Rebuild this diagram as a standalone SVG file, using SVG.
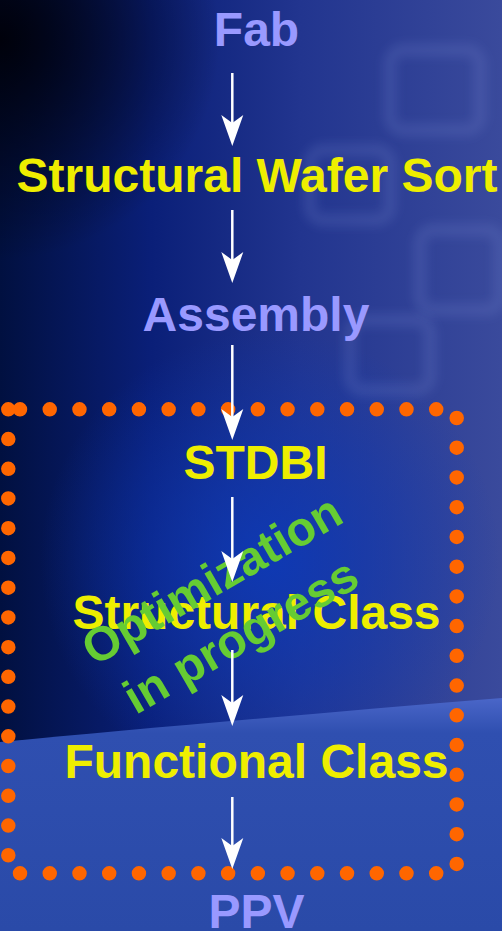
<svg xmlns="http://www.w3.org/2000/svg" width="502" height="931" viewBox="0 0 502 931">
  <defs>
    <linearGradient id="bgH" x1="0" y1="0" x2="1" y2="0">
      <stop offset="0" stop-color="#011040"/>
      <stop offset="0.3" stop-color="#0a1f78"/>
      <stop offset="0.6" stop-color="#22358f"/>
      <stop offset="1" stop-color="#3a4a9c"/>
    </linearGradient>
    <radialGradient id="glow" cx="270" cy="560" r="230" gradientUnits="userSpaceOnUse">
      <stop offset="0" stop-color="#0d3ab8" stop-opacity="0.9"/>
      <stop offset="1" stop-color="#0d3ab8" stop-opacity="0"/>
    </radialGradient>
    <radialGradient id="dark" cx="0" cy="40" r="220" gradientUnits="userSpaceOnUse">
      <stop offset="0" stop-color="#000008" stop-opacity="0.95"/>
      <stop offset="1" stop-color="#000008" stop-opacity="0"/>
    </radialGradient>
    <linearGradient id="ground" x1="0" y1="0" x2="0" y2="1">
      <stop offset="0" stop-color="#4a66c8"/>
      <stop offset="0.15" stop-color="#2f4fb0"/>
      <stop offset="1" stop-color="#2a4aa8"/>
    </linearGradient>
    <filter id="soft" x="-20%" y="-20%" width="140%" height="140%">
      <feGaussianBlur stdDeviation="5"/>
    </filter>
    <marker id="head" viewBox="-32 -12 33 24" refX="-10" refY="0" markerWidth="33" markerHeight="24" markerUnits="userSpaceOnUse" orient="auto">
      <path d="M0,0 L-31,-11 L-23,0 L-31,11 Z" fill="#ffffff"/>
    </marker>
    <style>
      .lav { font-family: "Liberation Sans", Arial, sans-serif; font-weight: bold; font-size: 48px; fill: #9999ff; text-anchor: middle; }
      .yel { font-family: "Liberation Sans", Arial, sans-serif; font-weight: bold; font-size: 48px; fill: #eeee00; text-anchor: middle; }
      .grn { font-family: "Liberation Sans", Arial, sans-serif; font-weight: bold; font-size: 48px; fill: #66cc33; text-anchor: middle; }
      .dots { fill: none; stroke: #ff6600; stroke-width: 14.5; stroke-linecap: round; stroke-dasharray: 0 29.73; }
      .conn { stroke: #ffffff; stroke-width: 2.5; fill: none; marker-end: url(#head); }
      .ghost { fill: none; stroke: #7a8ad0; stroke-opacity: 0.18; stroke-width: 14; filter: url(#soft); }
    </style>
  </defs>

  <g id="background">
    <rect x="0" y="0" width="502" height="931" fill="url(#bgH)"/>
    <rect x="0" y="0" width="502" height="931" fill="url(#glow)"/>
    <rect x="0" y="0" width="502" height="931" fill="url(#dark)"/>
    <rect x="390" y="50" width="90" height="80" rx="14" class="ghost"/>
    <rect x="310" y="150" width="80" height="70" rx="14" class="ghost"/>
    <rect x="420" y="230" width="80" height="80" rx="14" class="ghost"/>
    <rect x="350" y="320" width="80" height="70" rx="14" class="ghost"/>
    <path d="M0,742 C150,728 330,712 502,698 L502,931 L0,931 Z" fill="url(#ground)"/>
  </g>

  <g id="region">
    <path class="dots" d="M20,409.3 H437"/>
    <path class="dots" d="M8.3,409.3 V856"/>
    <path class="dots" d="M456.7,418 V865"/>
    <path class="dots" d="M20,873.3 H437"/>
  </g>

  <g id="node-fab"><text class="lav" x="256.5" y="46">Fab</text></g>
  <g id="node-sws"><text class="yel" x="257" y="192">Structural Wafer Sort</text></g>
  <g id="node-assembly"><text class="lav" x="256" y="331">Assembly</text></g>
  <g id="node-stdbi"><text class="yel" x="255.5" y="479">STDBI</text></g>
  <g id="node-sc"><text class="yel" x="256.5" y="629">Structural Class</text></g>
  <g id="node-fc"><text class="yel" x="256.5" y="778">Functional Class</text></g>
  <g id="node-ppv"><text class="lav" x="256.5" y="928">PPV</text></g>

  <g id="note">
    <text class="grn" transform="translate(220,594) rotate(-30)">Optimization</text>
    <text class="grn" transform="translate(249,650) rotate(-30)">in progress</text>
  </g>

  <g id="connectors">
    <line class="conn" x1="232.3" y1="73" x2="232.3" y2="136"/>
    <line class="conn" x1="232.3" y1="210" x2="232.3" y2="273"/>
    <line class="conn" x1="232.3" y1="345" x2="232.3" y2="430"/>
    <line class="conn" x1="232.3" y1="497" x2="232.3" y2="572"/>
    <line class="conn" x1="232.3" y1="650" x2="232.3" y2="716"/>
    <line class="conn" x1="232.3" y1="797" x2="232.3" y2="859"/>
  </g>
</svg>
